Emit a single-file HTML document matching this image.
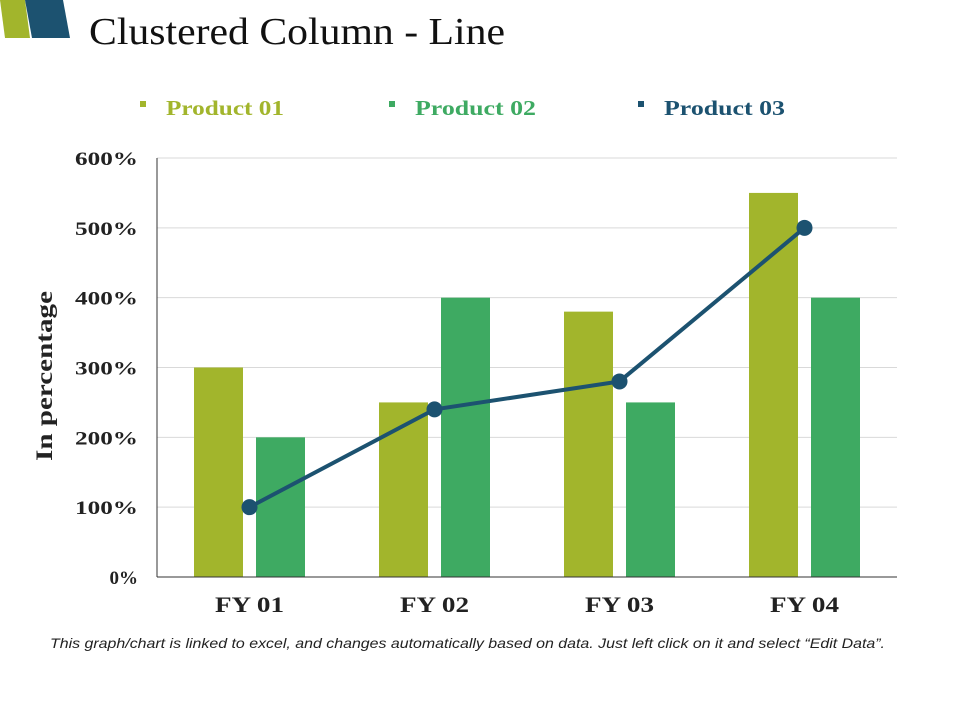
<!DOCTYPE html>
<html><head><meta charset="utf-8"><style>
body{margin:0;width:960px;height:720px;background:#fff;overflow:hidden;position:relative;font-family:"Liberation Serif",serif}
</style></head><body>
<svg width="960" height="720" style="position:absolute;left:0;top:0">
<polygon points="0,0 25,0 30,38 5,38" fill="#a2b52c"/>
<polygon points="25,0 63,0 70,38 32,38" fill="#1c5270"/>
<text x="89" y="44" font-size="38" fill="#111" textLength="416" lengthAdjust="spacingAndGlyphs" font-family="Liberation Serif, serif">Clustered Column - Line</text>
<g id="legend" font-size="21" font-weight="bold" font-family="Liberation Serif, serif">
<rect x="140" y="101" width="6" height="6" fill="#a2b52c"/>
<text x="166" y="115" fill="#a2b52c" textLength="118" lengthAdjust="spacingAndGlyphs">Product 01</text>
<rect x="389" y="101" width="6" height="6" fill="#3eaa62"/>
<text x="415" y="115" fill="#3eaa62" textLength="121" lengthAdjust="spacingAndGlyphs">Product 02</text>
<rect x="638" y="101" width="6" height="6" fill="#1c5270"/>
<text x="664" y="115" fill="#1c5270" textLength="121" lengthAdjust="spacingAndGlyphs">Product 03</text>
</g>
<text transform="translate(52,376) rotate(-90)" text-anchor="middle" font-size="23" font-weight="bold" fill="#222" textLength="170" lengthAdjust="spacingAndGlyphs">In percentage</text>
<g id="chart"></g>
<text x="50" y="648" font-size="14" font-style="italic" fill="#222" textLength="835" lengthAdjust="spacingAndGlyphs" font-family="Liberation Sans, sans-serif">This graph/chart is linked to excel, and changes automatically based on data. Just left click on it and select “Edit Data”.</text>
</svg>
<script>
const categories=["FY 01","FY 02","FY 03","FY 04"];
const product01=[300,250,380,550];
const product02=[200,400,250,400];
const product03=[100,240,280,500];
const yTicks=[0,100,200,300,400,500,600];
const tickLabels=["0%","100%","200%","300%","400%","500%","600%"];
const NS="http://www.w3.org/2000/svg";
const g=document.getElementById('chart');
const L=157,R=897,T=158,B=577,ymax=600;
const y=v=>B-(v/ymax)*(B-T);
const gw=(R-L)/categories.length;
const xc=i=>L+gw*(i+0.5);
function mk(tag,a){const e=document.createElementNS(NS,tag);for(const k in a)e.setAttribute(k,a[k]);g.appendChild(e);return e;}
yTicks.forEach((t,i)=>{
 if(t>0){const l=mk('line',{x1:L,x2:R,y1:y(t),y2:y(t),stroke:'#d9d9d9','stroke-width':1});
 
 }
 const a={x:138,y:y(t)+7,'text-anchor':'end','font-size':19,'font-weight':'bold',fill:'#222'};
 if(t>0){a.textLength=63;a.lengthAdjust='spacingAndGlyphs';}
 const tx=mk('text',a);
 tx.textContent=tickLabels[i];
 
 
});
const bw=49,gap=13;
categories.forEach((c,i)=>{
 const b1=mk('rect',{x:xc(i)-gap/2-bw,y:y(product01[i]),width:bw,height:B-y(product01[i]),fill:'#a2b52c'});
 
 
 const b2=mk('rect',{x:xc(i)+gap/2,y:y(product02[i]),width:bw,height:B-y(product02[i]),fill:'#3eaa62'});
 
 
 const tx=mk('text',{x:xc(i),y:612,'text-anchor':'middle','font-size':22,'font-weight':'bold',fill:'#222',textLength:69,lengthAdjust:'spacingAndGlyphs'});
 tx.textContent=c;
 
 
});
const ax=mk('line',{x1:L,x2:L,y1:T,y2:B,stroke:'#333','stroke-width':1});


const bx=mk('line',{x1:L,x2:R,y1:B,y2:B,stroke:'#333','stroke-width':1});


const pl=mk('polyline',{points:product03.map((v,i)=>xc(i)+','+y(v)).join(' '),fill:'none',stroke:'#1c5270','stroke-width':4});


product03.forEach((v,i)=>{
 const c=mk('circle',{cx:xc(i),cy:y(v),r:8,fill:'#1c5270'});
 
 
});
</script>
</body></html>
